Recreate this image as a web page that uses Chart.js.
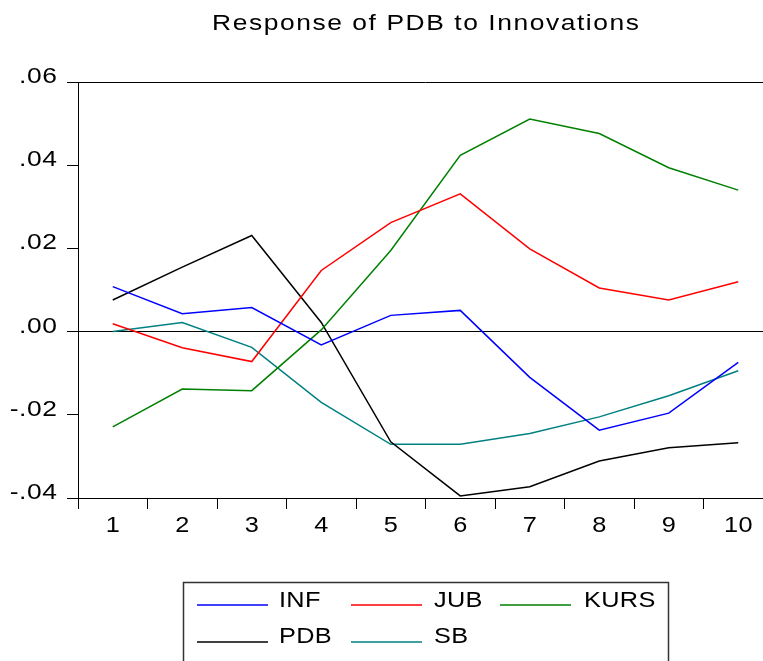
<!DOCTYPE html>
<html>
<head>
<meta charset="utf-8">
<script src="https://cdn.jsdelivr.net/npm/chart.js@4.4.1/dist/chart.umd.min.js"></script>
<style>
  html, body { margin: 0; padding: 0; background: #fff; overflow: hidden; }
  #wrap { width: 763px; height: 661px; overflow: hidden; }
  canvas { display: block; }
</style>
</head>
<body>
<div id="wrap"><canvas id="c" width="790" height="661"></canvas></div>
<script>
const chartTitle = "Response of PDB to Innovations";
const periods = ["1", "2", "3", "4", "5", "6", "7", "8", "9", "10"];
const seriesNames = ["INF", "JUB", "KURS", "PDB", "SB"];
const infValues  = [0.0108, 0.0043, 0.0058, -0.0032, 0.0039, 0.0051, -0.0110, -0.0237, -0.0196, -0.0074];
const jubValues  = [0.0019, -0.0039, -0.0072, 0.0147, 0.0262, 0.0331, 0.0199, 0.0105, 0.0076, 0.0120];
const kursValues = [-0.0229, -0.0138, -0.0142, 0.0004, 0.0195, 0.0424, 0.0511, 0.0476, 0.0394, 0.0340];
const pdbValues  = [0.0076, 0.0155, 0.0231, 0.0022, -0.0265, -0.0395, -0.0373, -0.0311, -0.0279, -0.0267];
const sbValues   = [0.0000, 0.0022, -0.0038, -0.0170, -0.0271, -0.0271, -0.0245, -0.0205, -0.0154, -0.0094];
const yMin = -0.04, yMax = 0.06, yStep = 0.02;

const colors = ["rgb(0,0,255)", "rgb(255,0,0)", "rgb(0,128,0)", "rgb(0,0,0)", "rgb(0,128,128)"];
const allValues = [infValues, jubValues, kursValues, pdbValues, sbValues];

const FONT = "'Liberation Sans', Arial, sans-serif";

function drawText(ctx, text, x, y, align, size, sx, ls) {
  ctx.save();
  let dx = 0;
  if (align === 'right') dx = ls * sx;
  else if (align === 'center') dx = ls * sx / 2;
  ctx.translate(x + dx, y);
  ctx.scale(sx, 1);
  ctx.font = size + 'px ' + FONT;
  ctx.letterSpacing = ls + 'px';
  ctx.fillStyle = '#000';
  ctx.textAlign = align;
  ctx.textBaseline = 'alphabetic';
  ctx.fillText(text, 0, 0);
  ctx.restore();
}

function fmt(v) {
  const s = Math.abs(v).toFixed(2).replace(/^0/, '');
  return (v < -1e-9 ? '-' : '') + s;
}

const decor = {
  id: 'decor',
  afterDraw(chart) {
    const ctx = chart.ctx;
    const a = chart.chartArea;
    ctx.save();
    ctx.strokeStyle = '#000';
    ctx.lineWidth = 1;
    ctx.beginPath();
    ctx.moveTo(a.left, a.top + 0.5);
    ctx.lineTo(a.right, a.top + 0.5);
    ctx.stroke();

    drawText(ctx, chartTitle, (a.left + a.right) / 2, 30, 'center', 22, 1.2, 1.3);

    const ys = chart.scales.y;
    ys.ticks.forEach((t) => {
      const py = ys.getPixelForValue(t.value);
      drawText(ctx, fmt(t.value), 57, py + 1, 'right', 22, 1.2, 0.5);
    });
    const xs = chart.scales.x;
    xs.ticks.forEach((t, i) => {
      const px = xs.getPixelForTick(i);
      drawText(ctx, chart.data.labels[i], px, 532, 'center', 22, 1.15, 0.5);
    });

    ctx.strokeStyle = '#333';
    ctx.lineWidth = 1.5;
    ctx.strokeRect(183.5, 582.5, 485, 85);
    const lineX = [197, 351, 500];
    const textX = [279, 434, 584];
    const rowLineY = [605, 642];
    const rowTextY = [607, 643];
    chart.data.datasets.forEach((ds, i) => {
      const col = i % 3, row = Math.floor(i / 3);
      ctx.strokeStyle = ds.borderColor;
      ctx.lineWidth = 1.6;
      ctx.beginPath();
      ctx.moveTo(lineX[col], rowLineY[row]);
      ctx.lineTo(lineX[col] + 71, rowLineY[row]);
      ctx.stroke();
      drawText(ctx, ds.label, textX[col], rowTextY[row], 'left', 22, 1.15, 0.3);
    });
    ctx.restore();
  }
};

new Chart(document.getElementById('c'), {
  type: 'line',
  data: {
    labels: periods,
    datasets: seriesNames.map((n, i) => ({
      label: n,
      data: allValues[i],
      borderColor: colors[i],
      backgroundColor: colors[i],
      borderWidth: 1.5,
      pointRadius: 0,
      tension: 0,
      fill: false
    }))
  },
  options: {
    responsive: false,
    animation: false,
    devicePixelRatio: 1,
    layout: { padding: { left: 0, right: 17, top: 82, bottom: 123 } },
    plugins: { legend: { display: false }, title: { display: false }, tooltip: { enabled: false } },
    scales: {
      x: {
        type: 'category',
        offset: true,
        grid: { offset: true, drawOnChartArea: false, drawTicks: true, tickLength: 11, tickColor: '#000', tickWidth: 1 },
        border: { display: true, color: '#000', width: 1 },
        ticks: { display: true, color: 'rgba(0,0,0,0)', font: { family: FONT, size: 20 }, padding: 3, maxRotation: 0, autoSkip: false },
        afterFit(s) { s.height = 40; }
      },
      y: {
        min: yMin, max: yMax,
        grid: {
          drawOnChartArea: true,
          color: (c) => (c.tick && Math.abs(c.tick.value) < 1e-9 ? '#000' : 'rgba(0,0,0,0)'),
          lineWidth: 1,
          tickLength: 11, tickColor: '#000', tickWidth: 1
        },
        border: { display: true, color: '#000', width: 1 },
        ticks: { stepSize: yStep, color: 'rgba(0,0,0,0)', font: { family: FONT, size: 20 }, padding: 5, callback: (v) => fmt(v) },
        afterFit(s) { s.width = 78; }
      }
    }
  },
  plugins: [decor]
});
</script>
</body>
</html>
